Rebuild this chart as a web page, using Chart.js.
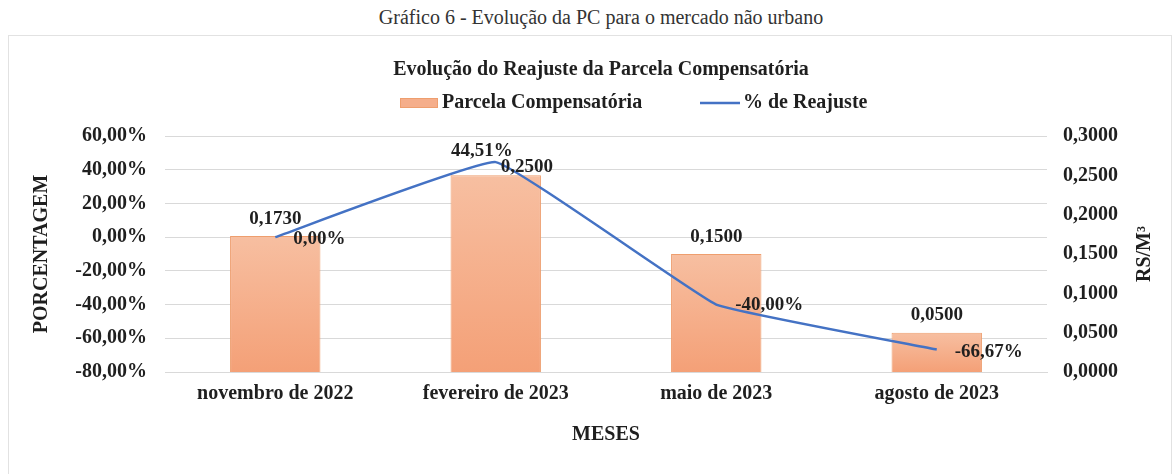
<!DOCTYPE html>
<html>
<head>
<meta charset="utf-8">
<script src="https://cdn.jsdelivr.net/npm/chart.js@4/dist/chart.umd.min.js"></script>
<style>
    html, body { margin: 0; padding: 0; background: #fff; overflow: hidden; }
    #wrap { position: relative; width: 1174px; height: 474px; }
    #caption {
        position: absolute; left: 0; top: 6px; width: 1202px; text-align: center;
        font: 20px "Liberation Serif", "Times New Roman", serif; color: #333;
    }
    #box {
        position: absolute; left: 8px; top: 35px; width: 1164px; height: 460px;
        border: 1px solid #e2e2e2; box-sizing: border-box;
    }
    #chart { position: absolute; left: 0; top: 0; }
</style>
</head>
<body>
<div id="wrap">
    <div id="caption">Gráfico 6 - Evolução da PC para o mercado não urbano</div>
    <div id="box"></div>
    <canvas id="chart" width="1174" height="474"></canvas>
</div>
<script>
const meses = ['novembro de 2022', 'fevereiro de 2023', 'maio de 2023', 'agosto de 2023'];
const parcelaCompensatoria = [0.1730, 0.2500, 0.1500, 0.0500];
const reajustePct = [0.00, 44.51, -40.00, -66.67];

const SERIF = '"Liberation Serif", "Times New Roman", serif';
const TXT = '#1f1f1f';
const BAR_TOP = '#f7bfa1';
const BAR_BOTTOM = '#f4a077';
const BAR_BORDER = '#ee9e6e';
const LINE_BLUE = '#4472c4';
const FS = 20;

// deslocamento dos rótulos (px) em relação ao topo da barra / ponto da linha
const barLabelShift = [[0, -17], [31, -8], [0, -17], [0, -18]];
const lineLabelShift = [[44, 2], [-14, -11], [53, 1], [52, 3]];

function pct(v) { return v.toFixed(2).replace('.', ',') + '%'; }
function reais(v) { return v.toFixed(4).replace('.', ','); }

function barFill(context) {
    const chart = context.chart;
    if (!chart.chartArea || context.type !== 'data') return '#f5ae8b';
    const sc = chart.scales.y1;
    const top = sc.getPixelForValue(context.raw);
    const bottom = sc.getPixelForValue(0);
    const g = chart.ctx.createLinearGradient(0, top, 0, bottom);
    g.addColorStop(0, BAR_TOP);
    g.addColorStop(1, BAR_BOTTOM);
    return g;
}

const extras = {
    id: 'extras',
    afterDatasetsDraw(chart) {
        const ctx = chart.ctx;
        ctx.save();
        ctx.font = 'bold 19px ' + SERIF;
        ctx.fillStyle = TXT;
        ctx.textAlign = 'center';
        ctx.textBaseline = 'middle';
        chart.getDatasetMeta(0).data.forEach((bar, i) => {
            ctx.fillText(reais(parcelaCompensatoria[i]), bar.x + barLabelShift[i][0], bar.y + barLabelShift[i][1]);
        });
        chart.getDatasetMeta(1).data.forEach((pt, i) => {
            ctx.fillText(pct(reajustePct[i]), pt.x + lineLabelShift[i][0], pt.y + lineLabelShift[i][1]);
        });
        ctx.restore();
    },
    afterDraw(chart) {
        const ctx = chart.ctx;
        const area = chart.chartArea;
        ctx.save();
        // legenda
        ctx.font = 'bold ' + FS + 'px ' + SERIF;
        ctx.textBaseline = 'middle';
        ctx.textAlign = 'left';
        const ly = 103;
        ctx.fillStyle = '#f5ae8b';
        ctx.fillRect(400, ly - 5, 38, 10);
        ctx.strokeStyle = BAR_BORDER;
        ctx.lineWidth = 1;
        ctx.strokeRect(400.5, ly - 4.5, 37, 9);
        ctx.fillStyle = TXT;
        ctx.fillText('Parcela Compensatória', 442, ly);
        ctx.strokeStyle = LINE_BLUE;
        ctx.lineWidth = 2.5;
        ctx.beginPath();
        ctx.moveTo(700, ly);
        ctx.lineTo(740, ly);
        ctx.stroke();
        ctx.fillText('% de Reajuste', 743, ly);
        // título do eixo direito
        ctx.translate(1145, (area.top + area.bottom) / 2);
        ctx.rotate(-Math.PI / 2);
        ctx.textAlign = 'center';
        ctx.fillText('RS/M³', 0, 0);
        ctx.restore();
    }
};

new Chart(document.getElementById('chart'), {
    data: {
        labels: meses,
        datasets: [
            {
                type: 'bar',
                label: 'Parcela Compensatória',
                data: parcelaCompensatoria,
                yAxisID: 'y1',
                backgroundColor: barFill,
                borderColor: BAR_BORDER,
                borderWidth: 1,
                categoryPercentage: 1,
                barPercentage: 0.41,
                order: 2
            },
            {
                type: 'line',
                label: '% de Reajuste',
                data: reajustePct,
                yAxisID: 'y',
                borderColor: LINE_BLUE,
                borderWidth: 2.5,
                pointRadius: 0,
                tension: 0.08,
                fill: false,
                order: 1
            }
        ]
    },
    options: {
        responsive: false,
        animation: false,
        layout: { padding: { left: 28, right: 0, top: 0, bottom: 24 } },
        plugins: {
            legend: { display: false },
            tooltip: { enabled: false },
            title: {
                display: true,
                text: 'Evolução do Reajuste da Parcela Compensatória',
                color: TXT,
                font: { family: SERIF, size: FS, weight: 'bold' },
                padding: { top: 58, bottom: 54 }
            }
        },
        scales: {
            x: {
                grid: { display: false, drawTicks: false },
                border: { display: true, color: '#d9d9d9' },
                ticks: {
                    color: TXT, padding: 10, maxRotation: 0, autoSkip: false,
                    font: { family: SERIF, size: FS, weight: 'bold' }
                },
                title: {
                    display: true, text: 'MESES', color: TXT,
                    font: { family: SERIF, size: FS, weight: 'bold' },
                    padding: { top: 7, bottom: 3 }
                }
            },
            y: {
                position: 'left',
                min: -80, max: 60,
                afterFit(scale) { scale.width = 137; },
                grid: { color: '#d9d9d9', drawTicks: false },
                border: { display: false },
                ticks: {
                    stepSize: 20, padding: 18, color: TXT,
                    font: { family: SERIF, size: FS, weight: 'bold' },
                    callback: v => pct(v)
                },
                title: {
                    display: true, text: 'PORCENTAGEM', color: TXT,
                    font: { family: SERIF, size: FS, weight: 'bold' },
                    padding: { top: 2, bottom: 0 }
                }
            },
            y1: {
                position: 'right',
                min: 0, max: 0.3,
                afterFit(scale) { scale.width = 127; },
                grid: { display: false, drawTicks: false },
                border: { display: false },
                ticks: {
                    stepSize: 0.05, padding: 16, color: TXT,
                    font: { family: SERIF, size: FS, weight: 'bold' },
                    callback: v => reais(v)
                }
            }
        }
    },
    plugins: [extras]
});
</script>
</body>
</html>
